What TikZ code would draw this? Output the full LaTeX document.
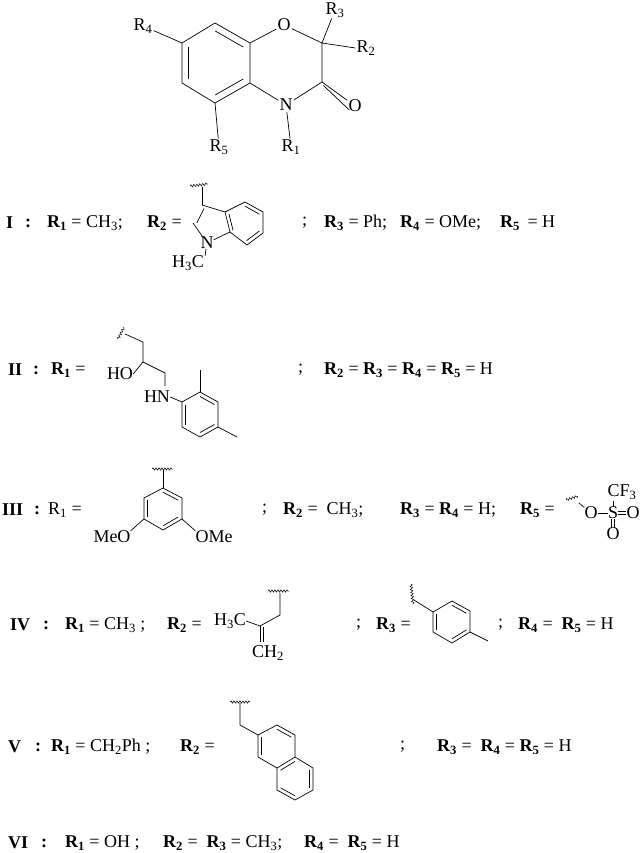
\documentclass[tikz,border=0pt]{standalone}
\usepackage{fontspec}
\setmainfont{Liberation Serif}
\usetikzlibrary{calc,decorations.pathmorphing}
\newcommand\sub[1]{\textsubscript{#1}}
\newcommand\bR[1]{\textbf{R\textsubscript{#1}}}
\newcommand\dbl[3]{\draw[bond] ($(#1)!0.2!(#3)$) -- ($(#2)!0.2!(#3)$);}
\begin{document}
\begin{tikzpicture}[x=1pt,y=-1pt,
  bond/.style={line width=0.7pt},
  wavy/.style={line width=0.5pt,decorate,decoration={snake,amplitude=1.2pt,segment length=3pt}},
  txt/.style={inner sep=0pt,anchor=west,font=\fontsize{18}{20}\selectfont},
  atom/.style={inner sep=1pt,font=\fontsize{18}{20}\selectfont,fill=white}]
\useasboundingbox (0,0) rectangle (640,853);
% ---------- core ----------
\coordinate (a1) at (215,23); \coordinate (a2) at (250,43); \coordinate (a3) at (250,83);
\coordinate (a4) at (215,103); \coordinate (a5) at (182,83); \coordinate (a6) at (182,43);
\coordinate (ac) at (216,63);
\coordinate (c2) at (322,43); \coordinate (c3) at (322,82);
\node[atom] (o1) at (284,25) {O};
\node[atom] (n1) at (286,105) {N};
\node[atom] (o2) at (355,106) {O};
\node[atom] (r3) at (335,10) {R\sub{3}};
\node[atom] (r2) at (366,48) {R\sub{2}};
\node[atom] (r4) at (143,26) {R\sub{4}};
\node[atom] (r5) at (219,147) {R\sub{5}};
\node[atom] (r1) at (291,147) {R\sub{1}};
\draw[bond] (a1)--(a2)--(a3)--(a4)--(a5)--(a6)--cycle;
\dbl{a1}{a2}{ac}\dbl{a3}{a4}{ac}\dbl{a5}{a6}{ac}
\draw[bond] (a2)--(o1)--(c2)--(c3)--(n1)--(a3);
\draw[bond] (c3)--(o2);
\draw[bond] ($(c3)+(1.5,3.5)$)--($(o2.west)+(2,4)$);
\draw[bond] (c2)--(r3); \draw[bond] (c2)--(r2.west);
\draw[bond] (a6)--(r4); \draw[bond] (a4)--(r5); \draw[bond] (n1)--(r1);
% ---------- row I ----------
\node[txt] (l1) at (6,223) {\textbf{I}};
\node[txt] (l1c) at (25,223) {\textbf{:}};
\node[txt] (l1a) at (47,223) {\bR{1} = CH\sub{3};};
\node[txt] (l1b) at (147,223) {\bR{2} =};
\coordinate (i3) at (202,205); \coordinate (i3a) at (225,212); \coordinate (i7a) at (230,232);
\node[atom,fill=none,inner sep=0pt] (in) at (207,243) {N};
\coordinate (i2) at (193,223);
\coordinate (ib1) at (245,202); \coordinate (ib2) at (263,212); \coordinate (ib3) at (263,233); \coordinate (ib4) at (247,245);
\coordinate (ic5) at (212,223); \coordinate (ic6) at (245,223);
\coordinate (iw) at (202,187);
\draw[bond] (i3)--(i3a)--(i7a)--(in)--(i2)--cycle;
\dbl{i2}{i3}{ic5}
\draw[bond] (i3a)--(ib1)--(ib2)--(ib3)--(ib4)--(i7a);
\dbl{i3a}{i7a}{ic6}\dbl{ib1}{ib2}{ic6}\dbl{ib3}{ib4}{ic6}
\draw[bond] (i3)--(iw);
\draw[wavy] (190,186)--(208,184);
\node[atom,fill=none,inner sep=0pt] (ime) at (188,263) {H\sub{3}C};
\draw[bond] (in)--(205,256);
\node[txt] (l1d) at (302,223) {;};
\node[txt] (l1e) at (324,223) {\bR{3} = Ph;};
\node[txt] (l1f) at (400,223) {\bR{4} = OMe;};
\node[txt] (l1g) at (500,223) {\bR{5} \,= H};
% ---------- row II ----------
\node[txt] (l2) at (8,370) {\textbf{II}};
\node[txt] (l2c) at (33,370) {\textbf{:}};
\node[txt] (l2a) at (51,370) {\bR{1} =};
\coordinate (p1) at (125,334); \coordinate (p2) at (143,342); \coordinate (p3) at (143,362);
\node[atom,fill=none,inner sep=0pt] (ho) at (120,374) {HO};
\coordinate (p4) at (165,373); \coordinate (p5) at (165,386);
\node[atom,fill=none,inner sep=0pt] (hn) at (157,397) {HN};
\coordinate (b1) at (182,402); \coordinate (b2) at (200,392); \coordinate (b3) at (218,402);
\coordinate (b4) at (218,427); \coordinate (b5) at (200,437); \coordinate (b6) at (182,427);
\coordinate (bc) at (200,414.5);
\draw[bond] (p1)--(p2)--(p3)--(ho.east);
\draw[bond] (p3)--(p4)--(p5);
\draw[bond] (hn.east)--(b1);
\draw[wavy] (118,339)--(124,327);
\draw[bond] (b1)--(b2)--(b3)--(b4)--(b5)--(b6)--cycle;
\dbl{b1}{b6}{bc}\dbl{b2}{b3}{bc}\dbl{b4}{b5}{bc}
\draw[bond] (b2)--(200,370); \draw[bond] (b4)--(237,437);
\node[txt] (l2d) at (298,370) {;};
\node[txt] (l2e) at (324,370) {\bR{2} = \bR{3} = \bR{4} = \bR{5} = H};
% ---------- row III ----------
\node[txt] (l3) at (2,510) {\textbf{III}};
\node[txt] (l3c) at (34,510) {\textbf{:}};
\node[txt] (l3a) at (48,510) {R\sub{1} =};
\coordinate (d1) at (163,488); \coordinate (d2) at (182,498); \coordinate (d3) at (182,519);
\coordinate (d4) at (163,530); \coordinate (d5) at (144,519); \coordinate (d6) at (144,498);
\coordinate (dc) at (163,509);
\draw[bond] (d1)--(d2)--(d3)--(d4)--(d5)--(d6)--cycle;
\dbl{d1}{d2}{dc}\dbl{d3}{d4}{dc}\dbl{d5}{d6}{dc}
\draw[bond] (d1)--(163,470);
\draw[wavy] (152,469)--(173,469);
\node[atom,fill=none,inner sep=0pt] (meo) at (112,537) {MeO};
\node[atom,fill=none,inner sep=0pt] (ome) at (214,537) {OMe};
\draw[bond] (d5)--(meo.north east); \draw[bond] (d3)--(ome.north west);
\node[txt] (l3d) at (262,510) {;};
\node[txt] (l3e) at (283,510) {\bR{2} = \ CH\sub{3};};
\node[txt] (l3f) at (400,510) {\bR{3} = \bR{4} = H;};
\node[txt] (l3g) at (520,510) {\bR{5} =};
\node[atom,fill=none,inner sep=0pt] (to) at (591,513) {O};
\node[atom,fill=none,inner sep=0pt] (ts) at (613,513) {S};
\node[atom,fill=none,inner sep=0pt] (to2) at (633,513) {O};
\node[atom,fill=none,inner sep=0pt] (to3) at (613,534) {O};
\node[atom,fill=none,inner sep=0pt] (tcf) at (622,492) {CF\sub{3}};
\draw[bond] (to)--(ts); \draw[bond] (579,503)--(to);
\draw[wavy] (566,500)--(578,496);
\draw[bond] ($(ts.east)+(0,-1.5)$)--($(to2.west)+(0,-1.5)$);
\draw[bond] ($(ts.east)+(0,1.5)$)--($(to2.west)+(0,1.5)$);
\draw[bond] ($(ts.south)+(-1.5,0)$)--($(to3.north)+(-1.5,0)$);
\draw[bond] ($(ts.south)+(1.5,0)$)--($(to3.north)+(1.5,0)$);
\draw[bond] (ts.north)--(613,501);
% ---------- row IV ----------
\node[txt] (l4) at (10,625) {\textbf{IV}};
\node[txt] (l4c) at (43,625) {\textbf{:}};
\node[txt] (l4a) at (65,625) {\bR{1} = CH\sub{3} ;};
\node[txt] (l4b) at (167,625) {\bR{2} =};
\node[atom,fill=none,inner sep=0pt] (mh3c) at (230,621) {H\sub{3}C};
\node[atom,fill=none,inner sep=0pt] (mch2) at (268,653) {CH\sub{2}};
\coordinate (m1) at (260,626); \coordinate (m2) at (280,615); \coordinate (m3) at (280,593);
\draw[bond] (mh3c.east)--(m1)--(m2)--(m3);
\draw[bond] (m1)--(260,642); \draw[bond] (263,627)--(263,642);
\draw[wavy] (268,591)--(289,591);
\node[txt] (l4d) at (356,625) {;};
\node[txt] (l4e) at (376,625) {\bR{3} =};
\coordinate (e1) at (433,612); \coordinate (e2) at (452,601); \coordinate (e3) at (470,611);
\coordinate (e4) at (470,632); \coordinate (e5) at (452,643); \coordinate (e6) at (433,632);
\coordinate (ec) at (451.5,622);
\draw[bond] (e1)--(e2)--(e3)--(e4)--(e5)--(e6)--cycle;
\dbl{e6}{e1}{ec}\dbl{e2}{e3}{ec}\dbl{e4}{e5}{ec}
\draw[bond] (e1)--(414,600); \draw[bond] (e4)--(488,641);
\draw[wavy] (411,584)--(413,604);
\node[txt] (l4f) at (498,625) {;};
\node[txt] (l4g) at (518,625) {\bR{4} = \ \bR{5} = H};
% ---------- row V ----------
\node[txt] (l5) at (8,747) {\textbf{V}};
\node[txt] (l5c) at (35,747) {\textbf{:}};
\node[txt] (l5a) at (51,747) {\bR{1} = CH\sub{2}Ph ;};
\node[txt] (l5b) at (180,747) {\bR{2} =};
\coordinate (n2) at (258,735); \coordinate (n3) at (277,725); \coordinate (n4) at (295,735);
\coordinate (n4a) at (295,757); \coordinate (n8a) at (277,768); \coordinate (n1c) at (258,757);
\coordinate (n5) at (313,768); \coordinate (n6) at (313,790); \coordinate (n7) at (295,800); \coordinate (n8) at (277,790);
\coordinate (nc1) at (276.5,746); \coordinate (nc2) at (295,779);
\draw[bond] (n2)--(n3)--(n4)--(n4a)--(n8a)--(n1c)--cycle;
\draw[bond] (n4a)--(n5)--(n6)--(n7)--(n8)--(n8a);
\dbl{n2}{n1c}{nc1}\dbl{n3}{n4}{nc1}
\dbl{n5}{n6}{nc2}\dbl{n7}{n8}{nc2}\dbl{n4a}{n8a}{nc2}
\draw[bond] (n2)--(240,725)--(240,703);
\draw[wavy] (230,702)--(250,702);
\node[txt] (l5d) at (400,747) {;};
\node[txt] (l5e) at (437,747) {\bR{3} = \ \bR{4} = \bR{5} = H};
% ---------- row VI ----------
\node[txt] (l6) at (8,843) {\textbf{VI}};
\node[txt] (l6c) at (41,843) {\textbf{:}};
\node[txt] (l6a) at (65,843) {\bR{1} = OH ;};
\node[txt] (l6b) at (163,843) {\bR{2} = \ \bR{3} = CH\sub{3};};
\node[txt] (l6e) at (304,843) {\bR{4} = \ \bR{5} = H};
\end{tikzpicture}
\end{document}
